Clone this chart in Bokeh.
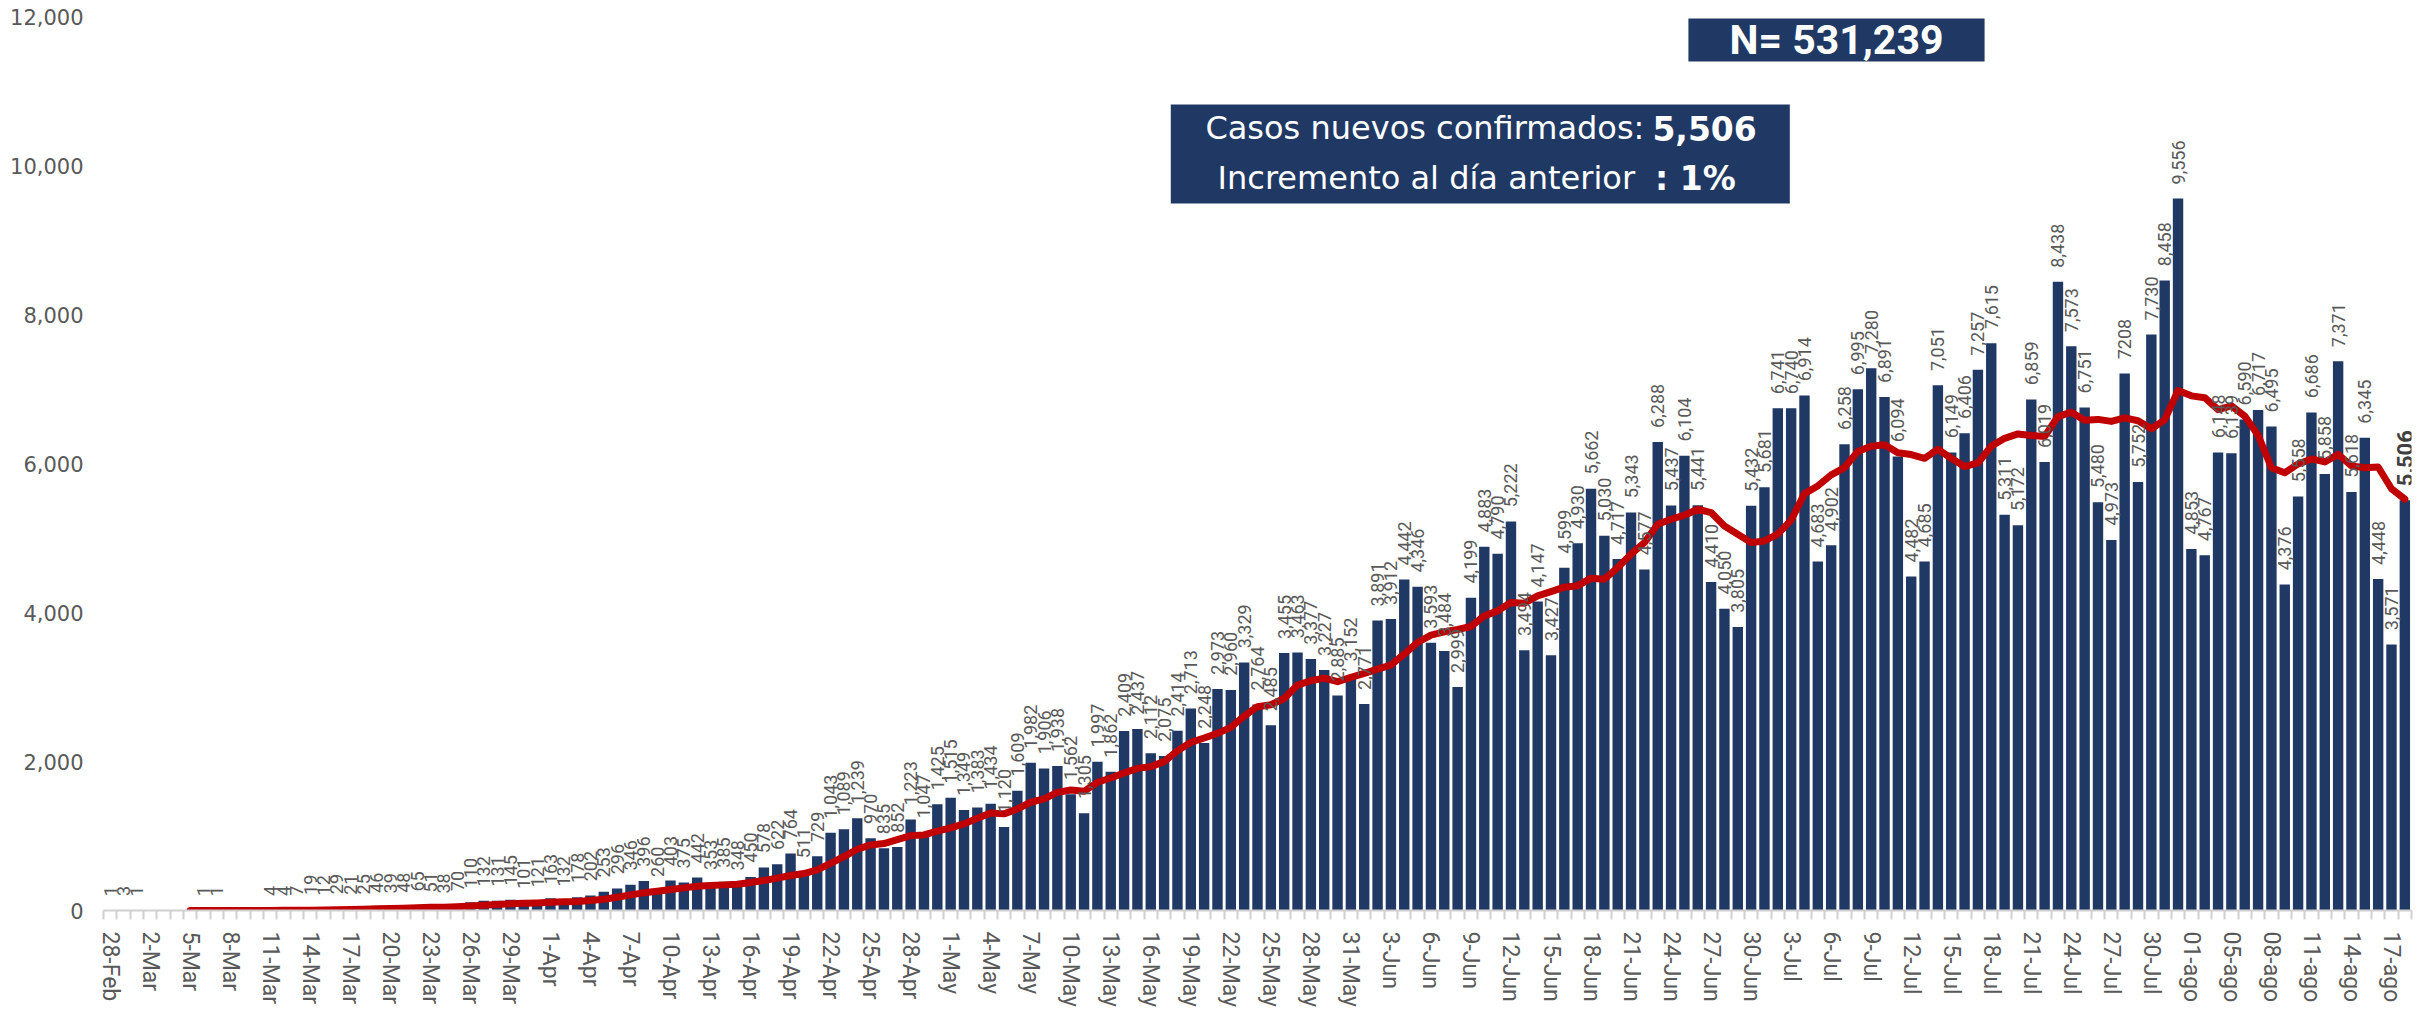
import math
import pandas as pd
from bokeh.plotting import figure
from bokeh.models import (ColumnDataSource, FixedTicker, NumeralTickFormatter,
                          BoxAnnotation, Label, Range1d)
from bokeh.core.properties import value
from bokeh.embed import file_html
from bokeh.resources import INLINE

# ---------------- data ----------------
dates = [d.strftime("%d-%b") for d in pd.date_range("2020-02-28", "2020-08-18")]

cases = [
    1, 3, 1, 0, 0, 0, 0, 1, 1, 0, 0, 0,
    4, 4, 7, 19, 12, 29, 21, 25, 46, 39, 48, 65, 51, 38, 70, 110, 132, 131, 145,
    101, 121, 163, 132, 178, 202, 253, 296, 346, 396, 260, 403, 375, 442, 353,
    385, 348, 450, 578, 622, 764, 511, 729, 1043, 1089, 1239, 970, 835, 852,
    1223, 1047, 1425, 1515, 1349, 1383, 1434, 1120, 1609, 1982, 1906, 1938,
    1562, 1305, 1997, 1862, 2409, 2437, 2112, 2075, 2414, 2713, 2248, 2973,
    2960, 3329, 2764, 2485, 3455, 3463, 3377, 3227, 2885, 3152, 2771, 3891,
    3912, 4442, 4346, 3593, 3484, 2999, 4199, 4883, 4790, 5222, 3494, 4147,
    3427, 4599, 4930, 5662, 5030, 4717, 5343, 4577, 6288, 5437, 6104, 5441,
    4410, 4050, 3805, 5432, 5681, 6741, 6740, 6914, 4683, 4902, 6258, 6995,
    7280, 6891, 6094, 4482, 4685, 7051, 6149, 6406, 7257, 7615, 5311, 5172,
    6859, 6019, 8438, 7573, 6751, 5480, 4973, 7208, 5752, 7730, 8458, 9556,
    4853, 4767, 6148, 6139, 6590, 6717, 6495, 4376, 5558, 6686, 5858, 7371,
    5618, 6345, 4448, 3571, 5506,
]

moving_avg = [None] * 6 + [
    1, 1, 1, 1, 1, 1, 1, 2, 3, 5, 7, 11, 13, 16, 22, 27, 31, 37, 42, 45, 51,
    60, 70, 80, 90, 96, 102, 110, 116, 120, 134, 152, 179, 210, 237, 259, 281,
    304, 326, 335, 344, 353, 375, 402, 434, 469, 496, 545, 634, 724, 822, 880,
    898, 950, 1005, 1015, 1064, 1109, 1163, 1239, 1310, 1297, 1363, 1453, 1498,
    1586, 1618, 1600, 1721, 1779, 1846, 1908, 1931, 1998, 2145, 2257, 2316,
    2378, 2458, 2610, 2735, 2762, 2846, 3026, 3084, 3120, 3071, 3129, 3182,
    3240, 3294, 3442, 3598, 3696, 3741, 3772, 3812, 3955, 4022, 4134, 4125,
    4223, 4280, 4340, 4358, 4461, 4447, 4603, 4783, 4938, 5185, 5252, 5306,
    5386, 5341, 5162, 5051, 4938, 4961, 5051, 5239, 5596, 5699, 5847, 5945,
    6160, 6231, 6251, 6144, 6120, 6070, 6192, 6070, 5959, 6007, 6231, 6338,
    6397, 6377, 6362, 6630, 6689, 6582, 6592, 6565, 6613, 6574, 6467, 6585,
    6979, 6908, 6883, 6723, 6774, 6636, 6380, 5943, 5876, 5994, 6061, 6021,
    6122, 5968, 5943, 5953, 5661, 5522,
]

tick_labels = [
    "28-Feb", "2-Mar", "5-Mar", "8-Mar", "11-Mar", "14-Mar", "17-Mar", "20-Mar",
    "23-Mar", "26-Mar", "29-Mar", "1-Apr", "4-Apr", "7-Apr", "10-Apr", "13-Apr",
    "16-Apr", "19-Apr", "22-Apr", "25-Apr", "28-Apr", "1-May", "4-May", "7-May",
    "10-May", "13-May", "16-May", "19-May", "22-May", "25-May", "28-May",
    "31-May", "3-Jun", "6-Jun", "9-Jun", "12-Jun", "15-Jun", "18-Jun", "21-Jun",
    "24-Jun", "27-Jun", "30-Jun", "3-Jul", "6-Jul", "9-Jul", "12-Jul", "15-Jul",
    "18-Jul", "21-Jul", "24-Jul", "27-Jul", "30-Jul", "01-ago", "05-ago",
    "08-ago", "11-ago", "14-ago", "17-ago",
]
tick_step = 3
label_overrides = {"28-Jul": "7208"}

total_cases = "531,239"
new_cases = "5,506"
increase = "1%"

# ---------------- figure ----------------
n = len(cases)
xs = list(range(n))

p = figure(width=2424, height=1010, x_range=Range1d(-0.5, n - 0.5),
           y_range=Range1d(0, 12000), output_backend="svg",
           toolbar_location=None, min_border_left=103, min_border_right=13,
           min_border_top=16, min_border_bottom=100)
p.outline_line_color = None
p.background_fill_color = "white"
p.border_fill_color = "white"
p.xgrid.visible = False
p.ygrid.visible = False

NAVY = "#203864"
RED = "#C00000"
GREY = "#595959"

bar_src = ColumnDataSource(dict(x=xs, cases=cases))
p.vbar(x="x", top="cases", width=0.78, source=bar_src,
       fill_color=NAVY, line_color=None)

ma = [float("nan") if v is None else v for v in moving_avg]
p.line(xs, ma, line_color=RED, line_width=7, line_join="round", line_cap="round")

# data labels (all but last, zero values skipped)
pad = 190
lx, ly, lt = [], [], []
for i, (d, v) in enumerate(zip(dates, cases)):
    if v == 0 or i == n - 1:
        continue
    lx.append(i)
    ly.append(v + pad)
    lt.append(label_overrides.get(d, f"{v:,}"))
lbl_src = ColumnDataSource(dict(x=lx, y=ly, text=lt))
p.text(x="x", y="y", text="text", source=lbl_src, angle=math.pi / 2,
       text_align="left", text_baseline="middle",
       text_font=value("Roboto"), text_font_size="18px", text_color=GREY)

last_src = ColumnDataSource(dict(x=[n - 1], y=[cases[-1] + pad],
                                 text=[f"{cases[-1]:,}"]))
p.text(x="x", y="y", text="text", source=last_src, angle=math.pi / 2,
       text_align="left", text_baseline="middle",
       text_font=value("Roboto"), text_font_style="bold",
       text_font_size="22px", text_color="#404040")

# axes
p.yaxis.ticker = FixedTicker(ticks=list(range(0, 12001, 2000)))
p.yaxis.formatter = NumeralTickFormatter(format="0,0")
p.yaxis.axis_line_color = None
p.yaxis.major_tick_line_color = None
p.yaxis.minor_tick_line_color = None
p.yaxis.major_label_text_font = "DejaVu Sans"
p.yaxis.major_label_text_font_size = "21px"
p.yaxis.major_label_text_color = GREY
p.yaxis.major_label_standoff = 14

major = list(range(0, n, tick_step))
p.xaxis.ticker = FixedTicker(ticks=major, minor_ticks=[i - 0.5 for i in range(n + 1)])
p.xaxis.major_label_overrides = {t: lab for t, lab in zip(major, tick_labels)}
p.xaxis.major_tick_line_color = None
p.xaxis.minor_tick_line_color = "#D0D0D0"
p.xaxis.minor_tick_line_width = 2
p.xaxis.minor_tick_in = 0
p.xaxis.minor_tick_out = 9
p.xaxis.axis_line_color = "#D0D0D0"
p.xaxis.axis_line_width = 2
p.xaxis.major_label_orientation = "vertical"
p.xaxis.major_label_text_font = "Roboto"
p.xaxis.major_label_text_font_size = "23px"
p.xaxis.major_label_text_color = GREY
p.xaxis.major_label_standoff = 12

# annotation boxes
p.add_layout(BoxAnnotation(left=118.3, right=140.5, top=11973, bottom=11396,
                           fill_color=NAVY, fill_alpha=1.0, line_color=None))
p.add_layout(Label(x=129.4, y=11685, text=f"N= {total_cases}", text_align="center",
                   text_baseline="middle", text_color="white",
                   text_font="Roboto", text_font_style="bold",
                   text_font_size="41px"))

p.add_layout(BoxAnnotation(left=79.5, right=125.9, top=10819, bottom=9490,
                           fill_color=NAVY, fill_alpha=1.0, line_color=None))
p.add_layout(Label(x=115.0, y=10500, text="Casos nuevos confirmados:",
                   text_align="right", text_baseline="middle",
                   text_color="white", text_font="DejaVu Sans",
                   text_font_size="32px"))
p.add_layout(Label(x=115.6, y=10500, text=new_cases, text_align="left",
                   text_baseline="middle", text_color="white",
                   text_font="DejaVu Sans", text_font_style="bold",
                   text_font_size="33px"))
p.add_layout(Label(x=114.3, y=9830, text="Incremento al día anterior",
                   text_align="right", text_baseline="middle",
                   text_color="white", text_font="DejaVu Sans",
                   text_font_size="32px"))
p.add_layout(Label(x=115.8, y=9830, text=f": {increase}", text_align="left",
                   text_baseline="middle", text_color="white",
                   text_font="DejaVu Sans", text_font_style="bold",
                   text_font_size="33px"))

open("out.html", "w").write(file_html(p, INLINE))
